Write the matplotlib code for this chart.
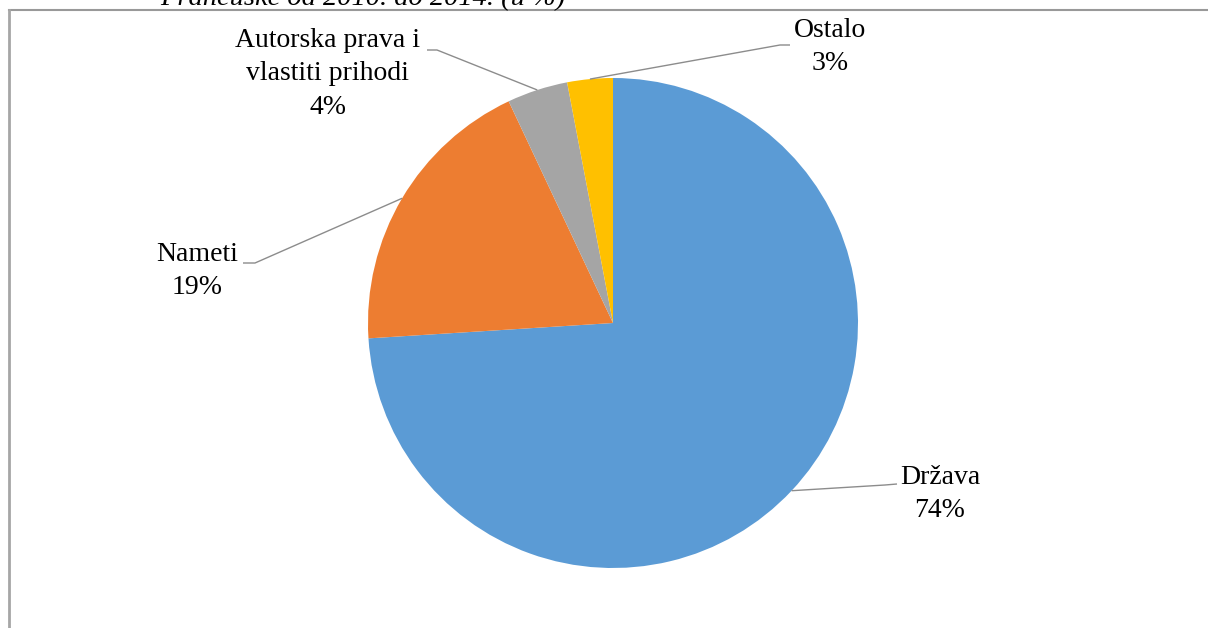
import numpy as np
import matplotlib.pyplot as plt
from matplotlib.lines import Line2D

W, H = 1208, 628

categories = ["Država", "Nameti", "Autorska prava i\nvlastiti prihodi", "Ostalo"]
values = [74, 19, 4, 3]
colors = ["#5B9BD5", "#ED7D31", "#A5A5A5", "#FFC000"]
title = "Francuske od 2010. do 2014. (u %)"

# label layout (pixel coords, y from top): text centre, leader elbow, leader end
label_pos = [(940, 494), (197, 271), (328, 74), (830, 47)]
elbows = [((885, 485), (897, 484)), ((255, 263), (243, 263)),
          ((437, 50), (427, 50)), ((780, 45), (790, 45))]

plt.rcParams["font.family"] = ["Liberation Serif", "DejaVu Serif"]

fig = plt.figure(figsize=(W / 100, H / 100), dpi=100)
ax = fig.add_axes([0, 0, 1, 1])

cx, cy, r = 613, H - 323, 245
wedges, _ = ax.pie(values, colors=colors, startangle=90, counterclock=False,
                   center=(cx, cy), radius=r, frame=True,
                   wedgeprops=dict(linewidth=0))
ax.set_xlim(0, W)
ax.set_ylim(0, H)
ax.set_aspect("equal")
ax.axis("off")

for w, name, val, (tx, ty), (e1, e2) in zip(wedges, categories, values,
                                            label_pos, elbows):
    mid = np.deg2rad((w.theta1 + w.theta2) / 2)
    ax_, ay_ = cx + r * np.cos(mid), cy + r * np.sin(mid)
    ax.plot([ax_, e1[0], e2[0]], [ay_, H - e1[1], H - e2[1]],
            color="#8c8c8c", lw=1.0, solid_capstyle="butt")
    ax.text(tx, H - ty, f"{name}\n{val}%", ha="center", va="center",
            fontsize=20, color="black", linespacing=1.45)

# chart area border (only top and left visible)
fig.add_artist(Line2D([9 / W, 1], [1 - 10 / H, 1 - 10 / H],
                      color="#999999", lw=1.5))
fig.add_artist(Line2D([9 / W, 9 / W], [1 - 10 / H, 0],
                      color="#a6a6a6", lw=2))

fig.text(160 / W, 1 - 5 / H, title, ha="left", va="baseline",
         fontsize=20.5, style="italic", color="black")

fig.savefig("out.png", dpi=100)
